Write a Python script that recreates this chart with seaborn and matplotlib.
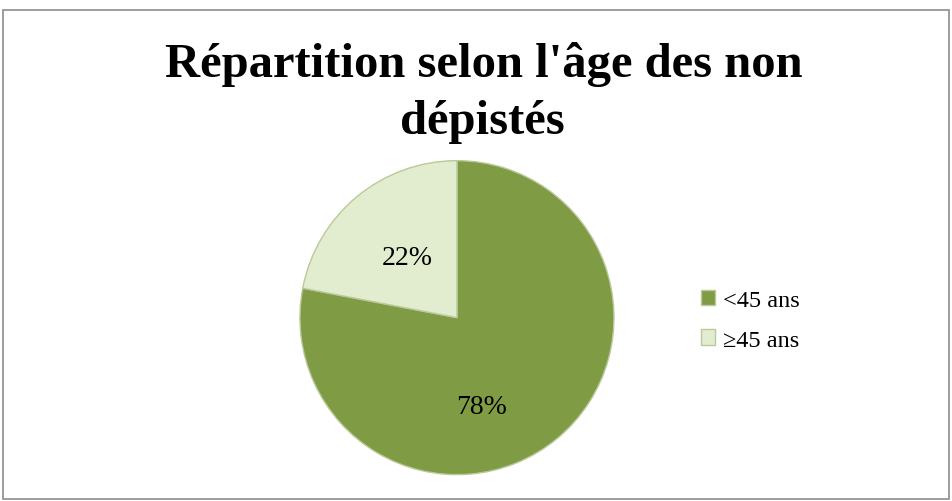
import matplotlib
matplotlib.use("Agg")
import matplotlib.pyplot as plt
import seaborn as sns
import numpy as np
from matplotlib.patches import Rectangle

# données
categories = ["<45 ans", "≥45 ans"]
valeurs = [78, 22]
couleurs = ["#7F9C45", "#E2EDCF"]

sns.set_theme(style="white")
plt.rcParams['font.family'] = ['Liberation Serif', 'DejaVu Serif']
plt.rcParams['text.color'] = 'black'

fig = plt.figure(figsize=(9.52, 5.02), dpi=100)
fig.patch.set_facecolor("white")

# cadre gris autour du graphique
fig.patches.append(Rectangle((0.003, 0.003), 0.994, 0.975, transform=fig.transFigure,
                             fill=False, edgecolor="#8C8C8C", linewidth=1.2))

ax = fig.add_axes([0.3151, 0.0525, 0.3298, 0.6255])
wedges, textes, autotextes = ax.pie(valeurs, colors=couleurs, startangle=90, counterclock=False,
                                    autopct='%1.0f%%', pctdistance=0.6,
                                    wedgeprops=dict(edgecolor="#B9C99A", linewidth=1.0),
                                    textprops=dict(fontsize=20, color="black"))
# position des pourcentages (placement "ajusté" comme dans Excel)
decalage = [-24, 0]
rayon = [0.59, 0.50]
for w, t, d, r in zip(wedges, autotextes, decalage, rayon):
    ang = np.deg2rad((w.theta1 + w.theta2) / 2 + d)
    t.set_position((r * np.cos(ang), r * np.sin(ang)))

ax.set_xlim(-1.0, 1.0)
ax.set_ylim(-1.0, 1.0)
ax.set_aspect('equal')
ax.axis('off')

fig.text(0.508, 0.8466, "Répartition selon l'âge des non", ha='center', va='baseline',
         fontsize=35, fontweight='bold', color='black')
fig.text(0.507, 0.733, "dépistés", ha='center', va='baseline',
         fontsize=35, fontweight='bold', color='black')

leg = fig.legend(wedges, categories, loc='center left', bbox_to_anchor=(0.713, 0.36),
                 frameon=False, fontsize=17.5, handlelength=0.6, handleheight=0.6,
                 handletextpad=0.3, labelspacing=0.75)
for t in leg.get_texts():
    t.set_color('black')

fig.savefig("out.png", dpi=100)
